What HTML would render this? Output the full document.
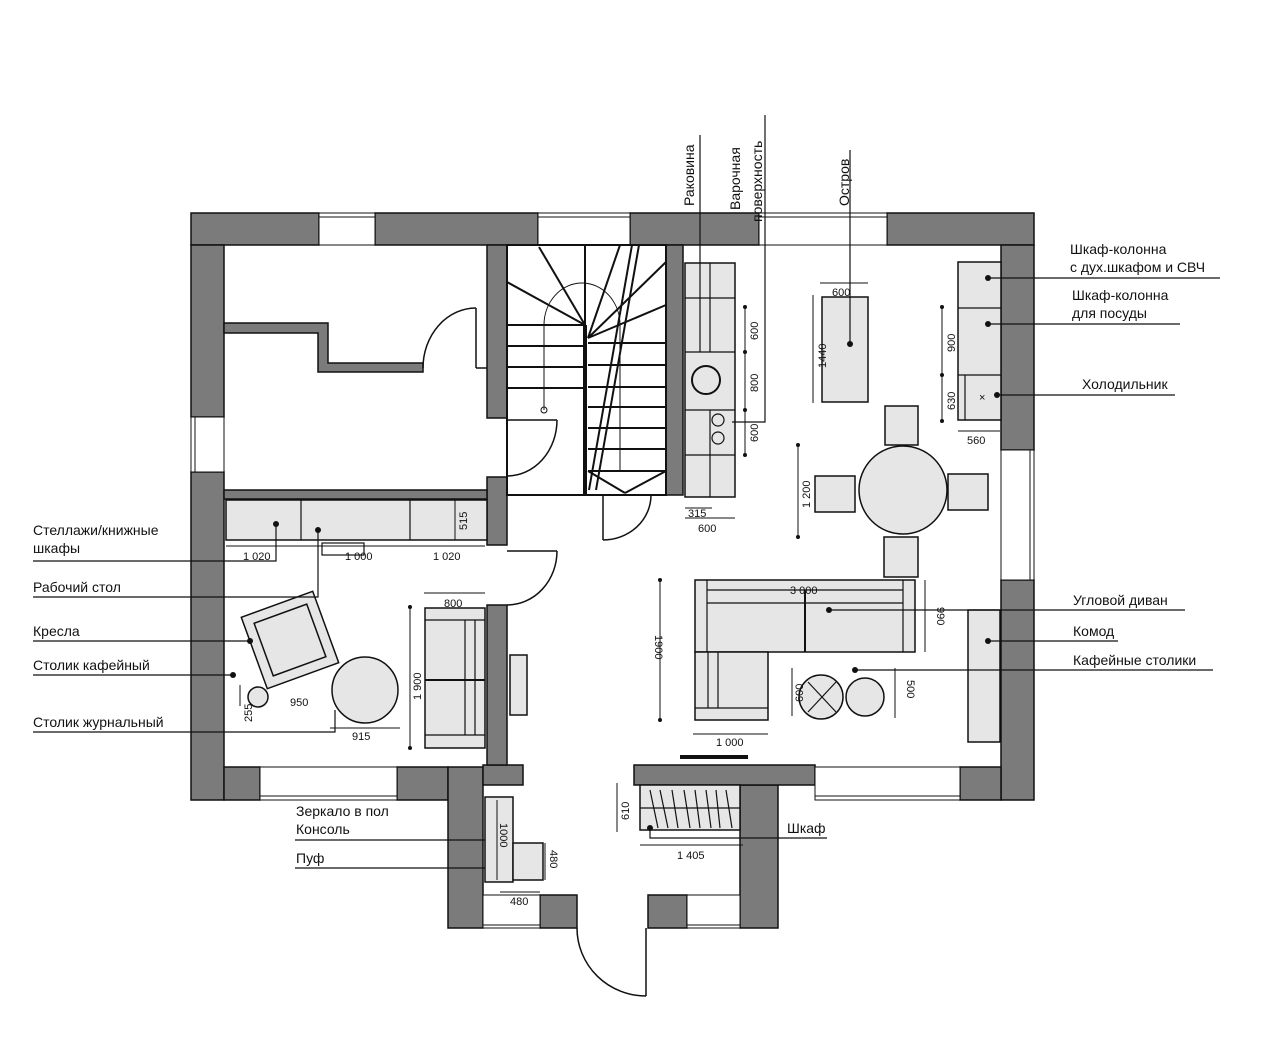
<!DOCTYPE html>
<html><head><meta charset="utf-8"><style>
html,body{margin:0;padding:0;background:#fff;}
svg{display:block;}
text{font-family:"Liberation Sans Narrow","Liberation Sans",sans-serif;font-size:14px;fill:#111;}
.s{font-size:11px;}
</style></head><body>
<svg width="1280" height="1056" viewBox="0 0 1280 1056" xmlns="http://www.w3.org/2000/svg">
<g stroke="#111" stroke-width="1.5" fill="#7b7b7b">
<!-- top wall -->
<rect x="191" y="213" width="128" height="32"/>
<rect x="375" y="213" width="163" height="32"/>
<rect x="630" y="213" width="129" height="32"/>
<rect x="887" y="213" width="147" height="32"/>
<!-- left wall -->
<rect x="191" y="245" width="33" height="172"/>
<rect x="191" y="472" width="33" height="328"/>
<!-- right wall -->
<rect x="1001" y="245" width="33" height="205"/>
<rect x="1001" y="580" width="33" height="220"/>
<!-- bottom -->
<rect x="224" y="767" width="36" height="33"/>
<rect x="397" y="767" width="51" height="33"/>
<rect x="448" y="767" width="35" height="161"/>
<rect x="483" y="765" width="40" height="20"/>
<rect x="540" y="895" width="37" height="33"/>
<rect x="648" y="895" width="39" height="33"/>
<rect x="740" y="785" width="38" height="143"/>
<rect x="634" y="765" width="181" height="20"/>
<rect x="960" y="767" width="41" height="33"/>
<!-- interior -->
<rect x="487" y="245" width="20" height="173"/>
<rect x="487" y="477" width="20" height="68"/>
<rect x="487" y="605" width="20" height="160"/>
<rect x="224" y="490" width="263" height="9"/>
<rect x="666" y="245" width="17" height="250"/>
<path d="M224 323 H328 V363 H423 V372 H318 V333 H224 Z"/>
</g>
<!-- windows -->
<g stroke="#111" stroke-width="1" fill="#fff">
<rect x="319" y="213" width="56" height="32"/><line x1="319" y1="217" x2="375" y2="217"/>
<rect x="538" y="213" width="92" height="32"/><line x1="538" y1="217" x2="630" y2="217"/>
<rect x="759" y="213" width="128" height="32"/><line x1="759" y1="217" x2="887" y2="217"/>
<rect x="191" y="417" width="33" height="55"/><line x1="195" y1="417" x2="195" y2="472"/>
<rect x="1001" y="450" width="33" height="130"/><line x1="1030" y1="450" x2="1030" y2="580"/>
<rect x="260" y="767" width="137" height="33"/><line x1="260" y1="796" x2="397" y2="796"/>
<rect x="815" y="767" width="145" height="33"/><line x1="815" y1="796" x2="960" y2="796"/>
<rect x="483" y="895" width="57" height="33"/><line x1="483" y1="925" x2="540" y2="925"/>
<rect x="687" y="895" width="53" height="33"/><line x1="687" y1="925" x2="740" y2="925"/>
</g>
<g fill="none" stroke="#111" stroke-width="1.5">
<!-- doors -->
<line x1="476" y1="308" x2="476" y2="368"/><path d="M423 368 A53 60 0 0 1 476 308"/>
<line x1="476" y1="368" x2="487" y2="368"/>
<line x1="507" y1="420" x2="557" y2="420"/><path d="M557 420 A50 56 0 0 1 507 476"/>
<line x1="507" y1="551" x2="557" y2="551"/><path d="M557 551 A50 54 0 0 1 507 605"/>
<line x1="603" y1="495" x2="603" y2="540"/><path d="M603 540 A48 45 0 0 0 651 495"/>
<line x1="646" y1="928" x2="646" y2="996"/><path d="M577 928 A69 68 0 0 0 646 996"/>
<!-- stairs -->
<rect x="507" y="245" width="159" height="250" stroke-width="2"/>
<line x1="585" y1="325" x2="585" y2="495" stroke-width="4"/>
<g stroke-width="2">
<line x1="507" y1="325" x2="585" y2="325"/><line x1="507" y1="346" x2="585" y2="346"/>
<line x1="507" y1="367" x2="585" y2="367"/><line x1="507" y1="388" x2="585" y2="388"/>
<line x1="588" y1="343" x2="666" y2="343"/><line x1="588" y1="365" x2="666" y2="365"/>
<line x1="588" y1="387" x2="666" y2="387"/><line x1="588" y1="407" x2="666" y2="407"/>
<line x1="588" y1="428" x2="666" y2="428"/><line x1="588" y1="449" x2="666" y2="449"/>
<line x1="588" y1="471" x2="666" y2="471"/>
<line x1="585" y1="325" x2="507" y2="282"/><line x1="585" y1="325" x2="539" y2="247"/>
<line x1="585" y1="325" x2="585" y2="245"/><line x1="588" y1="338" x2="620" y2="245"/>
<line x1="588" y1="338" x2="666" y2="262"/><line x1="588" y1="338" x2="666" y2="305"/>
<line x1="588" y1="471" x2="625" y2="493"/><line x1="666" y1="471" x2="625" y2="493"/>
</g>
<path d="M544 410 V325 A38 42 0 0 1 620 325 V471" stroke-width="1"/>
<circle cx="544" cy="410" r="3" stroke-width="1"/>
<line x1="589" y1="490" x2="632" y2="245" stroke-width="2"/>
<line x1="596" y1="490" x2="639" y2="245" stroke-width="2"/>
</g>
<!-- furniture fills -->
<g fill="#e6e6e6" stroke="#111" stroke-width="1.5">
<rect x="685" y="263" width="50" height="234"/>
<rect x="822" y="297" width="46" height="105"/>
<rect x="958" y="262" width="43" height="158"/>
<circle cx="903" cy="490" r="44"/>
<rect x="885" y="406" width="33" height="39"/>
<rect x="815" y="476" width="40" height="36"/>
<rect x="948" y="474" width="40" height="36"/>
<rect x="884" y="537" width="34" height="40"/>
<rect x="695" y="580" width="220" height="72"/>
<rect x="695" y="652" width="73" height="68"/>
<rect x="968" y="610" width="32" height="132"/>
<circle cx="821" cy="697" r="22"/><circle cx="865" cy="697" r="19"/>
<rect x="226" y="500" width="261" height="40"/>
<rect x="425" y="608" width="60" height="140"/>
<rect x="510" y="655" width="17" height="60"/>
<circle cx="365" cy="690" r="33"/><circle cx="258" cy="697" r="10"/>
<g transform="rotate(-20 290 640)"><rect x="252" y="602" width="76" height="76"/><rect x="262" y="612" width="56" height="56"/></g>
<rect x="485" y="797" width="28" height="85"/>
<rect x="513" y="843" width="30" height="37"/>
<rect x="640" y="785" width="100" height="45"/>
</g>
<g fill="none" stroke="#111" stroke-width="1.2">
<line x1="685" y1="298" x2="735" y2="298"/><line x1="685" y1="352" x2="735" y2="352"/>
<line x1="685" y1="410" x2="735" y2="410"/><line x1="685" y1="455" x2="735" y2="455"/>
<line x1="710" y1="263" x2="710" y2="352"/><line x1="710" y1="410" x2="710" y2="497"/>
<circle cx="706" cy="380" r="14" stroke-width="2"/>
<circle cx="718" cy="420" r="6"/><circle cx="718" cy="438" r="6"/>
<line x1="958" y1="308" x2="1001" y2="308"/><line x1="958" y1="375" x2="1001" y2="375"/>
<line x1="965" y1="375" x2="965" y2="420"/>
<line x1="707" y1="580" x2="707" y2="652"/><line x1="903" y1="580" x2="903" y2="652"/>
<line x1="707" y1="590" x2="903" y2="590"/><line x1="707" y1="603" x2="903" y2="603"/>
<line x1="805" y1="590" x2="805" y2="652" stroke-width="2"/>
<line x1="708" y1="652" x2="708" y2="708"/><line x1="718" y1="652" x2="718" y2="708"/>
<line x1="695" y1="708" x2="768" y2="708"/>
<line x1="808" y1="682" x2="836" y2="712"/><line x1="836" y1="682" x2="808" y2="712"/>
<line x1="301" y1="500" x2="301" y2="540"/><line x1="410" y1="500" x2="410" y2="540"/>
<rect x="322" y="543" width="42" height="12"/>
<line x1="425" y1="620" x2="485" y2="620"/><line x1="425" y1="735" x2="485" y2="735"/>
<line x1="425" y1="680" x2="485" y2="680" stroke-width="2"/>
<line x1="465" y1="620" x2="465" y2="735"/><line x1="475" y1="620" x2="475" y2="735"/>
<line x1="680" y1="757" x2="748" y2="757" stroke-width="4"/>
<line x1="640" y1="808" x2="740" y2="808"/>
<path d="M650 790 l8 38 M660 790 l8 38 M672 790 l6 38 M684 790 l6 38 M695 790 l5 38 M706 790 l5 38 M716 790 l4 38 M726 790 l6 38"/>
</g>
<!-- dimension lines -->
<g stroke="#111" stroke-width="1" fill="none">
<line x1="745" y1="307" x2="745" y2="455"/>
<line x1="685" y1="508" x2="712" y2="508"/><line x1="685" y1="518" x2="735" y2="518"/>
<line x1="820" y1="283" x2="868" y2="283"/><line x1="813" y1="295" x2="813" y2="403"/>
<line x1="942" y1="307" x2="942" y2="421"/><line x1="958" y1="431" x2="1000" y2="431"/>
<line x1="798" y1="445" x2="798" y2="537"/>
<line x1="925" y1="580" x2="925" y2="652"/><line x1="693" y1="734" x2="768" y2="734"/>
<line x1="660" y1="580" x2="660" y2="720"/>
<line x1="792" y1="668" x2="792" y2="716"/><line x1="895" y1="668" x2="895" y2="718"/>
<line x1="226" y1="546" x2="485" y2="546"/><line x1="455" y1="500" x2="455" y2="540"/>
<line x1="424" y1="593" x2="485" y2="593"/><line x1="410" y1="607" x2="410" y2="748"/>
<line x1="330" y1="728" x2="400" y2="728"/><line x1="240" y1="685" x2="240" y2="706"/>
<line x1="497" y1="800" x2="497" y2="880"/><line x1="545" y1="843" x2="545" y2="880"/>
<line x1="500" y1="892" x2="540" y2="892"/>
<line x1="617" y1="783" x2="617" y2="832"/><line x1="640" y1="845" x2="743" y2="845"/>
</g>
<g fill="#111">
<circle cx="745" cy="307" r="2"/><circle cx="745" cy="352" r="2"/><circle cx="745" cy="410" r="2"/><circle cx="745" cy="455" r="2"/>
<circle cx="942" cy="307" r="2"/><circle cx="942" cy="375" r="2"/><circle cx="942" cy="421" r="2"/>
<circle cx="798" cy="445" r="2"/><circle cx="798" cy="537" r="2"/>
<circle cx="660" cy="580" r="2"/><circle cx="660" cy="720" r="2"/>
<circle cx="410" cy="607" r="2"/><circle cx="410" cy="748" r="2"/>
</g>
<!-- leaders -->
<g stroke="#111" stroke-width="1.2" fill="none">
<line x1="700" y1="135" x2="700" y2="352"/>
<path d="M765 115 V422 H732"/>
<line x1="850" y1="150" x2="850" y2="344"/>
<line x1="988" y1="278" x2="1220" y2="278"/>
<line x1="988" y1="324" x2="1180" y2="324"/>
<line x1="997" y1="395" x2="1175" y2="395"/>
<line x1="829" y1="610" x2="1185" y2="610"/>
<line x1="988" y1="641" x2="1118" y2="641"/>
<line x1="855" y1="670" x2="1213" y2="670"/>
<path d="M33 561 H276 V524"/>
<path d="M33 597 H318 V530"/>
<line x1="33" y1="641" x2="250" y2="641"/>
<line x1="33" y1="675" x2="233" y2="675"/>
<path d="M33 732 H335 V710"/>
<line x1="295" y1="840" x2="485" y2="840"/>
<line x1="295" y1="868" x2="485" y2="868"/>
<path d="M650 828 V838 H827"/>
</g>
<g fill="#111">
<circle cx="850" cy="344" r="3"/><circle cx="988" cy="278" r="3"/><circle cx="988" cy="324" r="3"/><circle cx="997" cy="395" r="3"/>
<circle cx="829" cy="610" r="3"/><circle cx="988" cy="641" r="3"/><circle cx="855" cy="670" r="3"/>
<circle cx="276" cy="524" r="3"/><circle cx="318" cy="530" r="3"/><circle cx="250" cy="641" r="3"/><circle cx="233" cy="675" r="3"/><circle cx="650" cy="828" r="3"/>
</g>
<!-- labels -->
<text x="1070" y="254">Шкаф-колонна</text>
<text x="1070" y="272">с дух.шкафом и СВЧ</text>
<text x="1072" y="300">Шкаф-колонна</text>
<text x="1072" y="318">для посуды</text>
<text x="1082" y="389">Холодильник</text>
<text x="1073" y="605">Угловой диван</text>
<text x="1073" y="636">Комод</text>
<text x="1073" y="665">Кафейные столики</text>
<text x="33" y="535">Стеллажи/книжные</text>
<text x="33" y="553">шкафы</text>
<text x="33" y="592">Рабочий стол</text>
<text x="33" y="636">Кресла</text>
<text x="33" y="670">Столик кафейный</text>
<text x="33" y="727">Столик журнальный</text>
<text x="296" y="816">Зеркало в пол</text>
<text x="296" y="834">Консоль</text>
<text x="296" y="863">Пуф</text>
<text x="787" y="833">Шкаф</text>
<text transform="translate(694 206) rotate(-90)">Раковина</text>
<text transform="translate(740 210) rotate(-90)">Варочная</text>
<text transform="translate(762 222) rotate(-90)">поверхность</text>
<text transform="translate(849 206) rotate(-90)">Остров</text>
<g class="s">
<text class="s" transform="translate(758 340) rotate(-90)">600</text>
<text class="s" transform="translate(758 392) rotate(-90)">800</text>
<text class="s" transform="translate(758 442) rotate(-90)">600</text>
<text class="s" x="688" y="517">315</text>
<text class="s" x="698" y="532">600</text>
<text class="s" x="832" y="296">600</text>
<text class="s" transform="translate(826 368) rotate(-90)">1440</text>
<text class="s" transform="translate(955 352) rotate(-90)">900</text>
<text class="s" transform="translate(955 410) rotate(-90)">630</text>
<text class="s" x="967" y="444">560</text>
<text class="s" x="979" y="401">×</text>
<text class="s" transform="translate(810 508) rotate(-90)">1 200</text>
<text class="s" x="790" y="594">3 000</text>
<text class="s" transform="translate(937 607) rotate(90)">990</text>
<text class="s" x="716" y="746">1 000</text>
<text class="s" transform="translate(655 635) rotate(90)">1900</text>
<text class="s" transform="translate(803 702) rotate(-90)">600</text>
<text class="s" transform="translate(907 680) rotate(90)">500</text>
<text class="s" x="243" y="560">1 020</text>
<text class="s" x="345" y="560">1 000</text>
<text class="s" x="433" y="560">1 020</text>
<text class="s" transform="translate(467 530) rotate(-90)">515</text>
<text class="s" x="444" y="607">800</text>
<text class="s" transform="translate(421 700) rotate(-90)">1 900</text>
<text class="s" x="290" y="706">950</text>
<text class="s" x="352" y="740">915</text>
<text class="s" transform="translate(252 722) rotate(-90)">255</text>
<text class="s" transform="translate(500 823) rotate(90)">1000</text>
<text class="s" transform="translate(550 850) rotate(90)">480</text>
<text class="s" x="510" y="905">480</text>
<text class="s" transform="translate(629 820) rotate(-90)">610</text>
<text class="s" x="677" y="859">1 405</text>
</g>
</svg>
</body></html>
